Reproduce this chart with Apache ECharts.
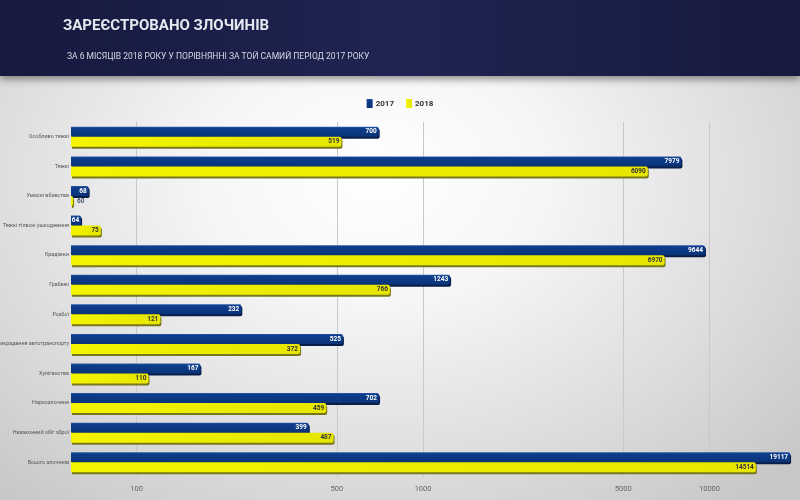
<!DOCTYPE html>
<html>
<head>
<meta charset="utf-8">
<script src="https://cdn.jsdelivr.net/npm/echarts@6/dist/echarts.min.js"></script>
<style>
	html, body { margin: 0; padding: 0; }
	body {
		width: 800px; height: 500px; overflow: hidden;
		background: radial-gradient(ellipse 70% 85% at 47% 35%, #ffffff 0%, #f6f6f6 30%, #dcdcdc 70%, #c8c8c8 100%);
	}
	#chart { width: 800px; height: 500px; }
</style>
</head>
<body>
<div id="chart"></div>
<script>
//дані
var categories = ['Особливо тяжкі', 'Тяжкі', 'Умисні вбивства', 'Тяжкі тілесні ушкодження', 'Крадіжки', 'Грабежі',
	'Розбої', 'Викрадення автотранспорту', 'Хуліганства', 'Наркозлочини', 'Незаконний обіг зброї', 'Всього злочинів'];
var values2017 = [700, 7979, 68, 64, 9644, 1243, 232, 525, 167, 702, 399, 19117];
var values2018 = [519, 6090, 60, 75, 6970, 766, 121, 372, 110, 459, 487, 14514];
var seriesNames = ['2017', '2018'];
var tickValues = [100, 500, 1000, 5000, 10000];

var xMin = 59, xMax = 20700;
var gridLeft = 71, gridRight = 0;

// підпис всередині бару, якщо влазить, інакше праворуч
function barData(values) {
	var w = 800 - gridLeft - gridRight;
	return values.map(function(v) {
		var px = Math.log(v / xMin) / Math.log(xMax / xMin) * w;
		if (px < 6) {
			return { value: v, label: { position: 'right', distance: 4, color: '#4a5a6a' } };
		}
		return v;
	});
}

var chart = echarts.init(document.getElementById('chart'));
var option = {
	backgroundColor: 'transparent',
	textStyle: { fontFamily: 'Roboto, "Open Sans", sans-serif' },
	graphic: [{
		type: 'rect',
		shape: { x: 0, y: 0, width: 800, height: 76 },
		style: {
			fill: new echarts.graphic.LinearGradient(0, 0, 1, 0, [
				{ offset: 0, color: '#161a3e' },
				{ offset: 0.5, color: '#1f2452' },
				{ offset: 1, color: '#161a3e' }
			]),
			shadowBlur: 8,
			shadowOffsetY: 3,
			shadowColor: 'rgba(0,0,0,0.45)'
		},
		z: 0
	}],
	title: [{
		text: 'ЗАРЕЄСТРОВАНО ЗЛОЧИНІВ',
		left: 58,
		top: 14,
		textStyle: {
			color: '#e6e7ef',
			fontSize: 15,
			fontWeight: 'bold',
			fontFamily: 'Roboto, sans-serif'
		}
	}, {
		text: 'ЗА 6 МІСЯЦІВ 2018 РОКУ У ПОРІВНЯННІ ЗА ТОЙ САМИЙ ПЕРІОД 2017 РОКУ',
		left: 62,
		top: 47,
		textStyle: {
			color: '#d8d9e4',
			fontSize: 8.5,
			fontWeight: 'normal',
			fontFamily: 'Roboto, sans-serif'
		}
	}],
	legend: {
		top: 94,
		left: 'center',
		icon: 'rect',
		itemWidth: 6,
		itemHeight: 9,
		itemGap: 12,
		textStyle: { fontSize: 8, color: '#333', fontWeight: 'bold', padding: [0, 0, 0, -2] },
		data: seriesNames
	},
	grid: {
		left: gridLeft,
		right: gridRight,
		top: 122,
		bottom: 23,
		outerBoundsMode: 'none',
		containLabel: false
	},
	xAxis: {
		type: 'log',
		min: xMin,
		max: xMax,
		axisLine: { show: false },
		axisTick: { show: false, customValues: tickValues },
		axisLabel: {
			customValues: tickValues,
			fontSize: 7.5,
			color: '#666',
			margin: 8,
			formatter: function(v) { return String(Math.round(v)); }
		},
		splitLine: { show: true, lineStyle: { color: '#c9c9c9', width: 1 } }
	},
	yAxis: {
		type: 'category',
		inverse: true,
		data: categories,
		axisLine: { show: false },
		axisTick: { show: false },
		axisLabel: { fontSize: 5.4, color: '#555', margin: 2 }
	},
	series: [{
		name: seriesNames[0],
		type: 'bar',
		barWidth: 10,
		barGap: '0%',
		data: barData(values2017),
		itemStyle: {
			color: new echarts.graphic.LinearGradient(0, 0, 0, 1, [
				{ offset: 0, color: '#2a5aa8' },
				{ offset: 0.15, color: '#0d3d8c' },
				{ offset: 1, color: '#0a3478' }
			]),
			borderRadius: [0, 2, 2, 0],
			shadowColor: '#081d48',
			shadowOffsetY: 2,
			shadowOffsetX: 1
		},
		label: {
			show: true,
			position: 'insideRight',
			distance: 2,
			fontSize: 6.5,
			color: '#fff',
			fontWeight: 'bold'
		}
	}, {
		name: seriesNames[1],
		type: 'bar',
		barWidth: 10,
		barGap: '0%',
		data: barData(values2018),
		itemStyle: {
			color: new echarts.graphic.LinearGradient(0, 0, 1, 0, [
				{ offset: 0, color: '#f4f400' },
				{ offset: 1, color: '#e6e600' }
			]),
			borderRadius: [0, 2, 2, 0],
			shadowColor: '#77771c',
			shadowOffsetY: 2,
			shadowOffsetX: 1
		},
		label: {
			show: true,
			position: 'insideRight',
			distance: 2,
			fontSize: 6.5,
			color: '#333',
			fontWeight: 'bold'
		}
	}]
};
chart.setOption(option);
</script>
</body>
</html>
